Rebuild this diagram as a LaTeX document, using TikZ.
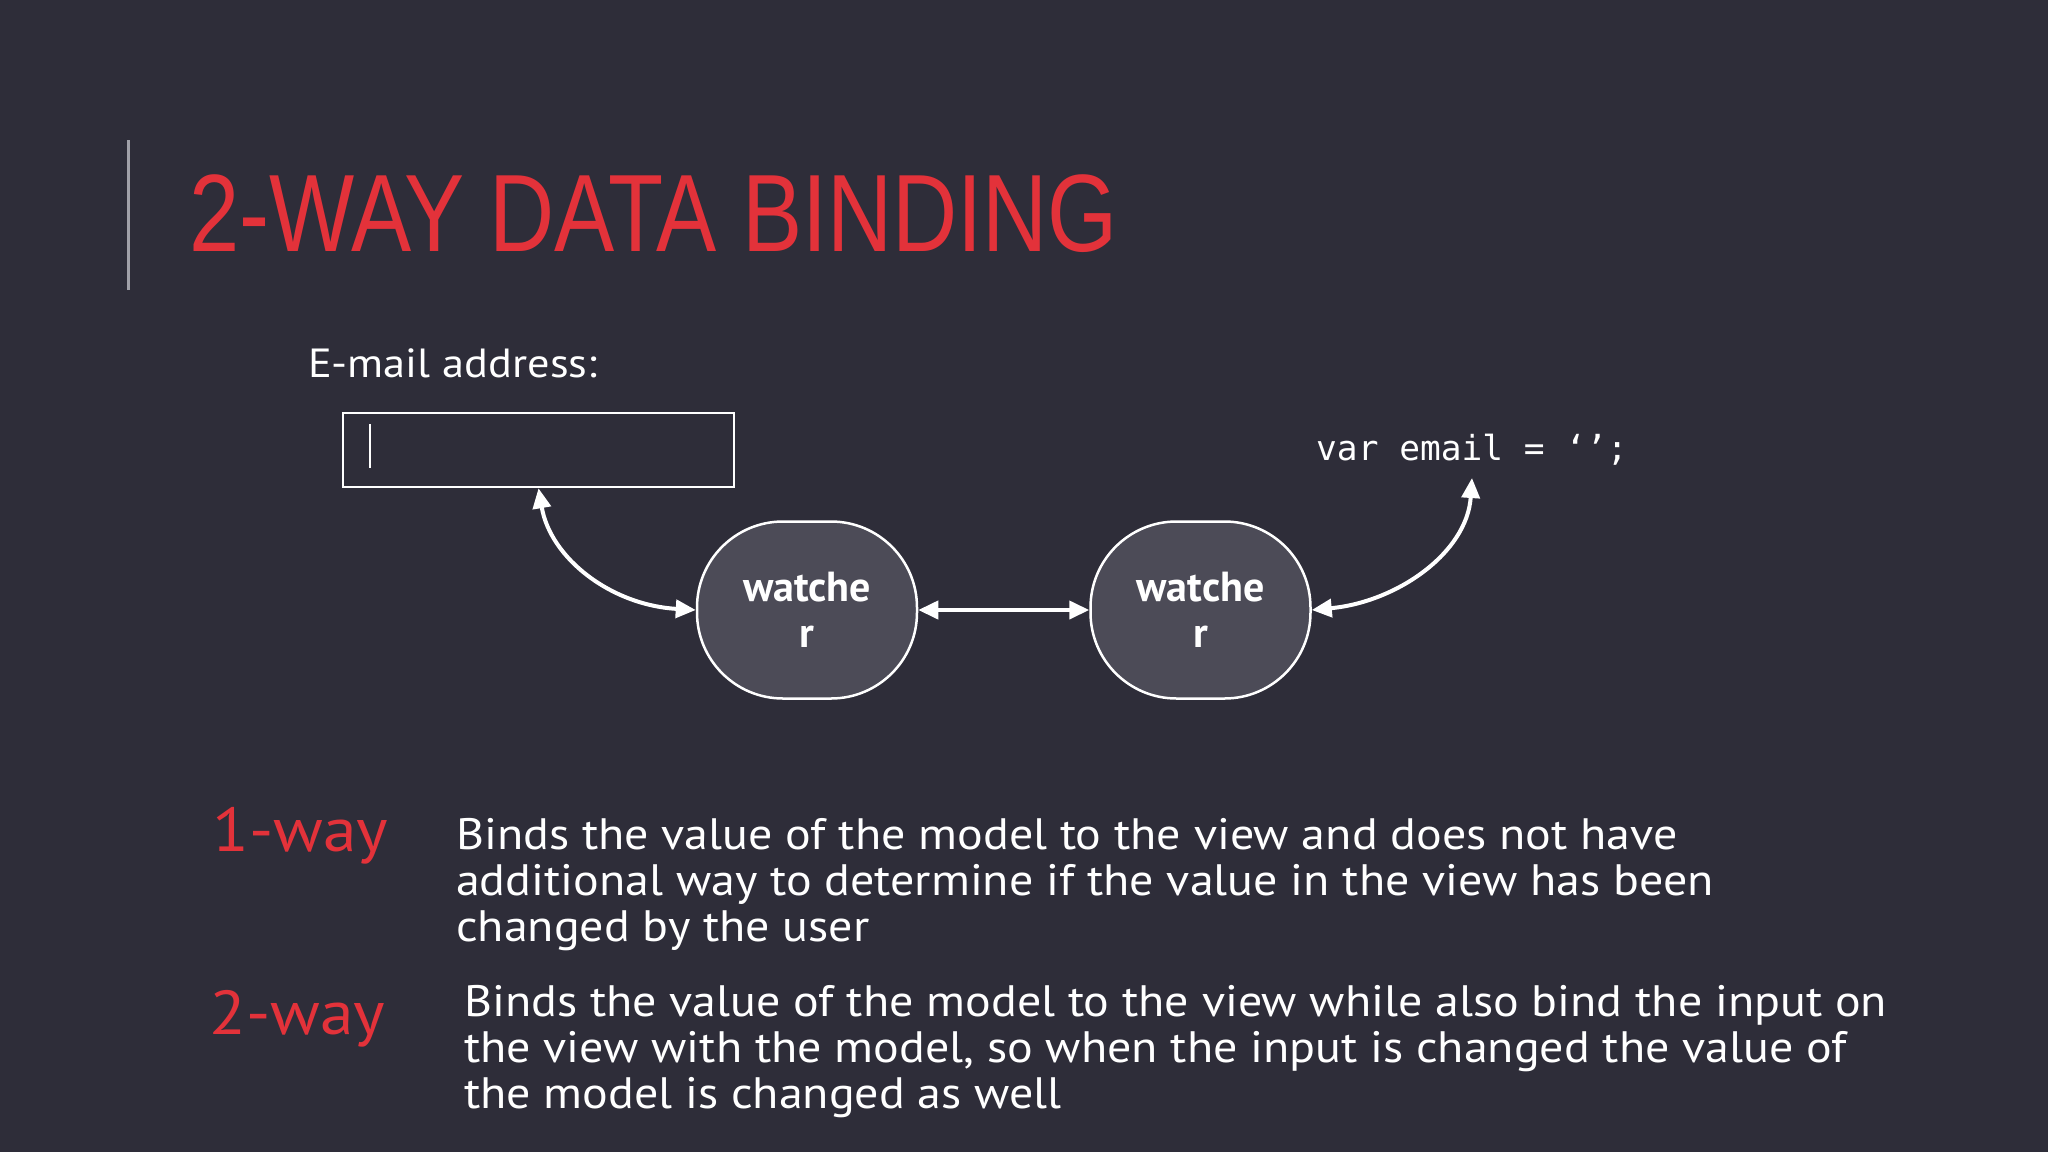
\documentclass[tikz,border=0pt]{standalone}
\usepackage{fontspec}
\setmainfont{PT Sans}
\newfontfamily\bodyfont[FakeStretch=1.09]{PT Sans}
\newfontfamily\titlefont[FakeStretch=0.82]{Liberation Sans}
\newfontfamily\codefont{DejaVu Sans Mono}
\usetikzlibrary{arrows.meta}
\definecolor{bg}{RGB}{46,45,57}
\definecolor{accent}{RGB}{227,50,58}
\definecolor{nodefill}{RGB}{76,75,87}
\definecolor{barcol}{RGB}{160,160,168}
\begin{document}
\begin{tikzpicture}[x=1pt,y=-1pt,
  watcher/.style={draw=white, line width=2.5pt, fill=nodefill, rounded corners=86pt,
    minimum width=220pt, minimum height=177pt, inner sep=0pt, align=center,
    text=white, font=\fontsize{42}{46}\selectfont\bfseries},
  conn/.style={draw=white, line width=4pt,
    {Triangle[length=20pt,width=18pt]}-{Triangle[length=20pt,width=18pt]}},
  bodytext/.style={text=white, align=left, anchor=north west, inner sep=0pt,
    font=\bodyfont\fontsize{44}{46}\selectfont},
  waylabel/.style={text=accent, anchor=base west, inner sep=0pt,
    font=\bodyfont\fontsize{62}{62}\selectfont}
]
\fill[bg] (0,0) rectangle (2048,1152);
% title
\draw[barcol, line width=3pt] (128,140) -- (128,290);
\node[anchor=base west, inner sep=0pt, text=accent,
  font=\titlefont\fontsize{110}{110}\selectfont] (title) at (189,251) {2-WAY DATA BINDING};
% form
\node[anchor=base west, inner sep=0pt, text=white, font=\bodyfont\fontsize{40.7}{42}\selectfont]
  (emaillbl) at (308,377) {E-mail address:};
\node[draw=white, line width=2.5pt, minimum width=391pt, minimum height=74pt, inner sep=0pt]
  (input) at (538.5,450) {};
\draw[white, line width=2.5pt] (370,424) -- (370,468);
% watchers
\node[watcher] (w1) at (807,610) {watche\\r};
\node[watcher] (w2) at (1200.5,610) {watche\\r};
% model
\node[anchor=base west, inner sep=0pt, text=white, font=\codefont\fontsize{34.5}{34.5}\selectfont]
  (var) at (1316,460) {var email = ‘’;};
\coordinate (vartip) at (1472,478);
% connectors
\draw[conn] (input.south) .. controls +(12,70) and +(-85,-5) .. (w1.west);
\draw[conn] (w1.east) -- (w2.west);
\draw[conn] (w2.east) .. controls +(85,-8) and +(-5,75) .. (vartip);
% descriptions
\node[waylabel] (l1) at (212,851) {1-way};
\node[bodytext] (d1) at (456,818) {Binds the value of the model to the view and does not have\\additional way to determine if the value in the view has been\\changed by the user};
\node[waylabel] (l2) at (209,1034) {2-way};
\node[bodytext] (d2) at (464,985) {Binds the value of the model to the view while also bind the input on\\the view with the model, so when the input is changed the value of\\the model is changed as well};
\end{tikzpicture}
\end{document}
